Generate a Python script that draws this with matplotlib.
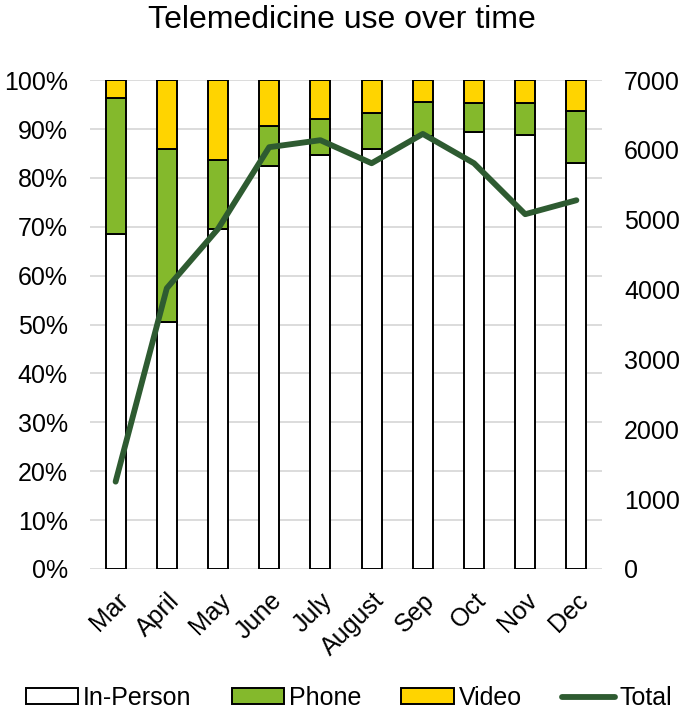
import matplotlib.pyplot as plt
from matplotlib.ticker import FuncFormatter

plt.rcParams['font.family'] = ['Liberation Sans', 'DejaVu Sans']

# --- data ---
months = ['Mar', 'April', 'May', 'June', 'July', 'August', 'Sep', 'Oct', 'Nov', 'Dec']
in_person = [68.6, 50.6, 69.6, 82.4, 84.7, 86.0, 88.5, 89.3, 88.8, 83.0]
phone = [27.7, 35.4, 14.0, 8.3, 7.3, 7.3, 7.1, 6.1, 6.6, 10.7]
video = [3.7, 14.0, 16.4, 9.3, 8.0, 6.7, 4.4, 4.6, 4.6, 6.3]
total = [1250, 4020, 4870, 6040, 6140, 5810, 6230, 5810, 5080, 5280]

green = '#84B92C'
yellow = '#FFD400'
dark = '#2E5B31'

fig = plt.figure(figsize=(6.84, 7.22), dpi=100)
ax = fig.add_axes([0.1316, 0.212, 0.7485, 0.677])

x = range(len(months))
w = 0.39
ax.bar(x, in_person, w, color='white', edgecolor='black', linewidth=1.4, label='In-Person')
ax.bar(x, phone, w, bottom=in_person, color=green, edgecolor='black', linewidth=1.4, label='Phone')
tops = [a + b for a, b in zip(in_person, phone)]
ax.bar(x, video, w, bottom=tops, color=yellow, edgecolor='black', linewidth=1.4, label='Video')

ax.set_ylim(0, 100)
ax.set_xlim(-0.5, len(months) - 0.5)
ax.set_yticks(range(0, 101, 10))
ax.yaxis.set_major_formatter(FuncFormatter(lambda v, p: f'{v:.0f}%'))
ax.grid(axis='y', color='#d9d9d9', linewidth=1.3)
ax.set_axisbelow(True)
ax.set_xticks(list(x))
ax.set_xticklabels(months, rotation=45, ha='right', rotation_mode='anchor')
ax.tick_params(axis='y', length=0, pad=16, labelsize=18)
ax.tick_params(axis='x', length=0, pad=14, labelsize=18)
for s in ax.spines.values():
    s.set_visible(False)

ax2 = ax.twinx()
ax2.plot(list(x), total, color=dark, linewidth=4.2, label='Total', solid_capstyle='round')
ax2.set_ylim(0, 7000)
ax2.set_yticks(range(0, 7001, 1000))
ax2.tick_params(axis='y', length=0, pad=16, labelsize=18)
for s in ax2.spines.values():
    s.set_visible(False)

fig.text(0.5, 0.972, 'Telemedicine use over time', ha='center', va='center', fontsize=23)

h1, l1 = ax.get_legend_handles_labels()
h2, l2 = ax2.get_legend_handles_labels()
fig.legend(h1 + h2, l1 + l2, loc='center', bbox_to_anchor=(0.51, 0.033), ncol=4,
           frameon=False, fontsize=18, handlelength=2.1, handleheight=0.6,
           handletextpad=0.2, columnspacing=1.6)

plt.savefig('out.png', dpi=100)
